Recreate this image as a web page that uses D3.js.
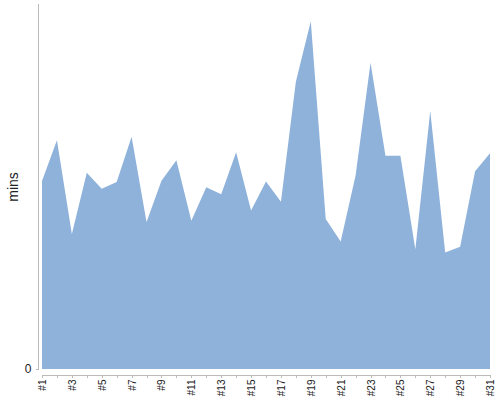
<!DOCTYPE html>
<html>
<head>
<meta charset="utf-8">
<script src="https://cdn.jsdelivr.net/npm/d3@7"></script>
<style>
  body { margin: 0; background: #fff; }
  .axis path, .axis line { stroke: #bbb; shape-rendering: crispEdges; }
  .axis text { font-family: "Liberation Sans", Arial, sans-serif; fill: #222; }
</style>
</head>
<body>
<script>
// day labels and minutes per day
const days = d3.range(1, 32).map(d => "#" + d);
const mins = [51.5, 62.7, 37.0, 53.8, 49.4, 51.2, 63.6, 40.3, 51.6, 57.2,
              40.6, 49.8, 47.9, 59.4, 43.4, 51.4, 45.8, 78.7, 95.3, 41.1,
              34.9, 53.0, 83.9, 58.4, 58.4, 32.8, 70.7, 31.9, 33.5, 54.2, 59.1];
const yTicks = [0];

const width = 500, height = 400;

const svg = d3.select("body").append("svg")
    .attr("width", width)
    .attr("height", height);

const data = days.map((d, i) => ({day: d, value: mins[i]}));

// scales
const x = d3.scalePoint().domain(days).range([42, 490]);
const y = d3.scaleLinear().domain([0, 100]).range([369, 4]);

// area
const area = d3.area()
    .x(d => x(d.day))
    .y0(y(0))
    .y1(d => y(d.value));

svg.append("path")
    .datum(data)
    .attr("fill", "#8fb2db")
    .attr("d", area);

// y axis
const yAxis = svg.append("g").attr("class", "axis axis--y")
    .attr("transform", "translate(38.5,0)")
    .call(d3.axisLeft(y).tickValues(yTicks).tickSize(3).tickSizeOuter(0).tickPadding(4));
yAxis.select(".domain").attr("d", `M0,${y(100)}V${y(0) + 1}`);
yAxis.selectAll("text").style("font-size", "12px").attr("fill", "#444");

// x axis
const xAxis = svg.append("g").attr("class", "axis axis--x")
    .attr("transform", "translate(0,374.5)")
    .call(d3.axisBottom(x).tickSize(3).tickSizeOuter(0)
        .tickFormat((d, i) => i % 2 === 0 ? d : ""));
xAxis.selectAll("text")
    .style("font-size", "10px")
    .attr("text-anchor", "end")
    .attr("transform", "rotate(-90)")
    .attr("x", -5)
    .attr("y", 0)
    .attr("dy", "0.35em");

// y label
svg.append("text")
    .attr("transform", "translate(18,187) rotate(-90)")
    .attr("text-anchor", "middle")
    .style("font-family", "Liberation Sans, Arial, sans-serif")
    .style("font-size", "14px")
    .attr("fill", "#222")
    .text("mins");
</script>
</body>
</html>
